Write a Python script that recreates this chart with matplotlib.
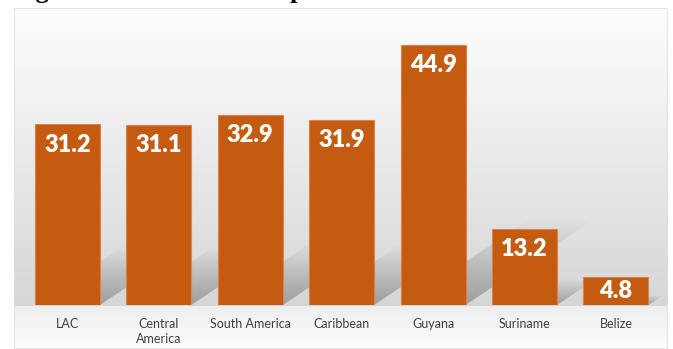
import numpy as np
import matplotlib.pyplot as plt
from matplotlib.patches import Polygon, Rectangle

# Bar values by region / country
categories = ["LAC", "Central\nAmerica", "South America", "Caribbean",
              "Guyana", "Suriname", "Belize"]
values = [31.2, 31.1, 32.9, 31.9, 44.9, 13.2, 4.8]

W, H = 673, 349
fig = plt.figure(figsize=(W / 100, H / 100), dpi=100)
fig.patch.set_facecolor("white")

# panel background: light gradient down to the floor, lighter floor below
bg = fig.add_axes([14 / W, 0, 654 / W, 341 / H])
rows = np.arange(341)
shade = np.where(rows <= 297,
                 254 - (rows / 297) * (254 - 214),
                 238 + ((rows - 297) / 44) * (253 - 238))
grad = np.repeat((shade / 255.0)[:, None], 3, axis=1)[:, None, :]
bg.imshow(grad, aspect="auto", extent=[0, 1, 0, 1], interpolation="bilinear")
bg.add_patch(Rectangle((0, 0), 1, 1, transform=bg.transAxes, fill=False,
                       edgecolor="#dedede", lw=1.2))
bg.set_axis_off()

ax = fig.add_axes([14 / W, 44 / H, 654 / W, 297 / H], zorder=2)
ax.patch.set_alpha(0)
x = np.arange(len(categories))
bar_w = 0.71
ax.set_xlim(-0.585, 6.57)
ax.set_ylim(0, 51.3)

# soft cast shadows toward the back right
px_x = 654 / (6.57 + 0.585)
px_y = 297 / 51.3
for xi, v in zip(x, values):
    dy = 0.33 * v
    dx = 1.5 * dy * px_y / px_x
    xl, xr = xi - bar_w / 2, xi + bar_w / 2
    poly = Polygon([(xl, 0), (xr, 0), (xr + dx, dy), (xl + dx, dy)],
                   closed=True, facecolor="none", edgecolor="none")
    ax.add_patch(poly)
    alpha = np.linspace(0.0, 0.45, 64)[:, None]
    img = np.zeros((64, 1, 4))
    img[..., :3] = 0.35
    img[..., 3] = alpha
    im = ax.imshow(img, aspect="auto", extent=[xl, xr + dx, 0, dy],
                   interpolation="bilinear", zorder=1)
    im.set_clip_path(poly)

bars = ax.bar(x, values, width=bar_w, color="#C55A11",
              edgecolor="#D9824A", linewidth=0.8, zorder=3)

# value labels inside the top of each bar, centred when the bar is short
for b, v in zip(bars, values):
    half_pt = v * px_y / 2 * 0.72
    off = -min(14.5, half_pt)
    ax.annotate(f"{v:.1f}", (b.get_x() + b.get_width() / 2, v),
                xytext=(0, off), textcoords="offset points",
                ha="center", va="center", color="white",
                fontsize=17, fontweight="heavy", family="Lato", zorder=4)

ax.set_xticks(x)
ax.set_xticklabels(categories, fontsize=9, color="#404040", family="Lato",
                   linespacing=1.35)
ax.tick_params(axis="x", length=0, pad=9)
ax.set_yticks([])
for s in ax.spines.values():
    s.set_visible(False)

# heading sits above the saved area, only its lowest strokes show
fig.text(12 / W, 1 + 2 / H, "Figure 3: NEET rates in percent",
         family="Liberation Serif", fontweight="bold", fontsize=19,
         va="baseline", ha="left")

fig.savefig("out.png", dpi=100)
